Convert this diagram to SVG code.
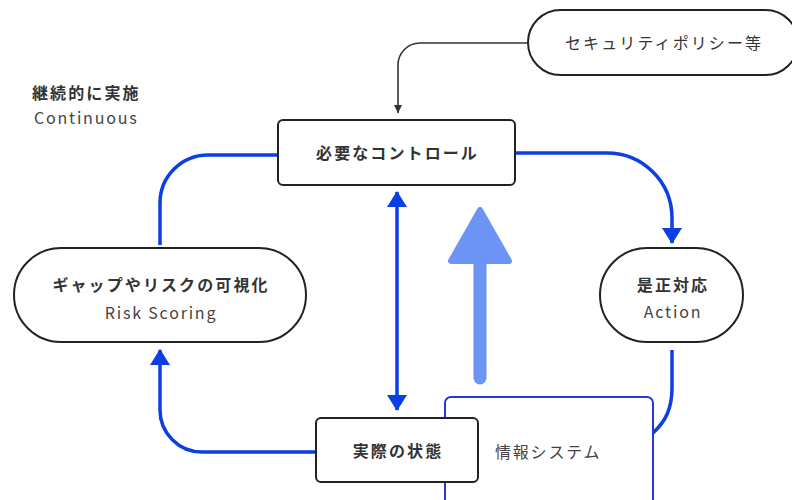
<svg xmlns="http://www.w3.org/2000/svg" width="792" height="500" viewBox="0 0 792 500">
<style>
text{font-family:"Noto Sans CJK JP","Noto Sans",sans-serif;font-size:16px;fill:#333;letter-spacing:2.1px}
.b{font-weight:bold}
.r{fill:#444;letter-spacing:1.8px}
.node{fill:#fff;stroke:#222;stroke-width:2}
.blue{fill:none;stroke:#0b3fe3;stroke-width:3.5}
.gray{fill:none;stroke:#333;stroke-width:1.6}
</style>
<defs>
<marker id="ab" viewBox="0 0 16 20" refX="15" refY="10" markerWidth="16" markerHeight="20" markerUnits="userSpaceOnUse" orient="auto-start-reverse">
<path d="M0,0 L16,10 L0,20 Z" fill="#0b3fe3"/>
</marker>
<marker id="ag" viewBox="0 0 8 8" refX="8" refY="4" markerWidth="8" markerHeight="8" markerUnits="userSpaceOnUse" orient="auto">
<path d="M0,0 L8,4 L0,8 Z" fill="#333"/>
</marker>
</defs>

<g id="label-continuous">
<text x="32" y="99" class="b">継続的に実施</text>
<text x="34" y="124" class="r">Continuous</text>
</g>

<g id="info-system">
<rect x="445" y="397" width="208" height="130" rx="6" fill="#fff" stroke="#2438d4" stroke-width="2"/>
<text x="495" y="458" class="r">情報システム</text>
</g>

<g id="connectors">
<path class="gray" d="M528,43 H420 A22,22 0 0 0 398,65 V113" marker-end="url(#ag)"/>
<path class="blue" d="M278,155 H208 A48,48 0 0 0 160,203 V245"/>
<path class="blue" d="M515,153 H607 A65,65 0 0 1 672,218 V243" marker-end="url(#ab)"/>
<path class="blue" d="M318,452 H202 A42,42 0 0 1 160,410 V350" marker-end="url(#ab)"/>
<path class="blue" d="M397,192 V410" marker-start="url(#ab)" marker-end="url(#ab)"/>
<path class="blue" d="M672,350 V388 C672,408 666,421 653,433"/>
<path d="M480,210 L451,261 L509,261 Z" fill="#6b94f4" stroke="#6b94f4" stroke-width="6" stroke-linejoin="round"/>
<path d="M480,262 V378" stroke="#6b94f4" stroke-width="13" stroke-linecap="round"/>
</g>

<g id="policy">
<rect x="528" y="10" width="270" height="65" rx="32.5" class="node"/>
<text x="565" y="49">セキュリティポリシー等</text>
</g>

<g id="required-control">
<rect x="278" y="120" width="237" height="65" rx="5" class="node"/>
<text x="397.5" y="159" text-anchor="middle" class="b">必要なコントロール</text>
</g>

<g id="risk-scoring">
<rect x="14" y="248" width="292" height="94" rx="47" class="node"/>
<text x="161" y="291" text-anchor="middle" class="b">ギャップやリスクの可視化</text>
<text x="161" y="319" text-anchor="middle" class="r">Risk Scoring</text>
</g>

<g id="action">
<rect x="600" y="248" width="143" height="94" rx="47" class="node"/>
<text x="673" y="291" text-anchor="middle" class="b">是正対応</text>
<text x="673" y="318" text-anchor="middle" class="r">Action</text>
</g>

<g id="actual-state">
<rect x="316" y="418" width="162" height="64" rx="5" class="node"/>
<text x="398" y="457" text-anchor="middle" class="b">実際の状態</text>
</g>
</svg>
